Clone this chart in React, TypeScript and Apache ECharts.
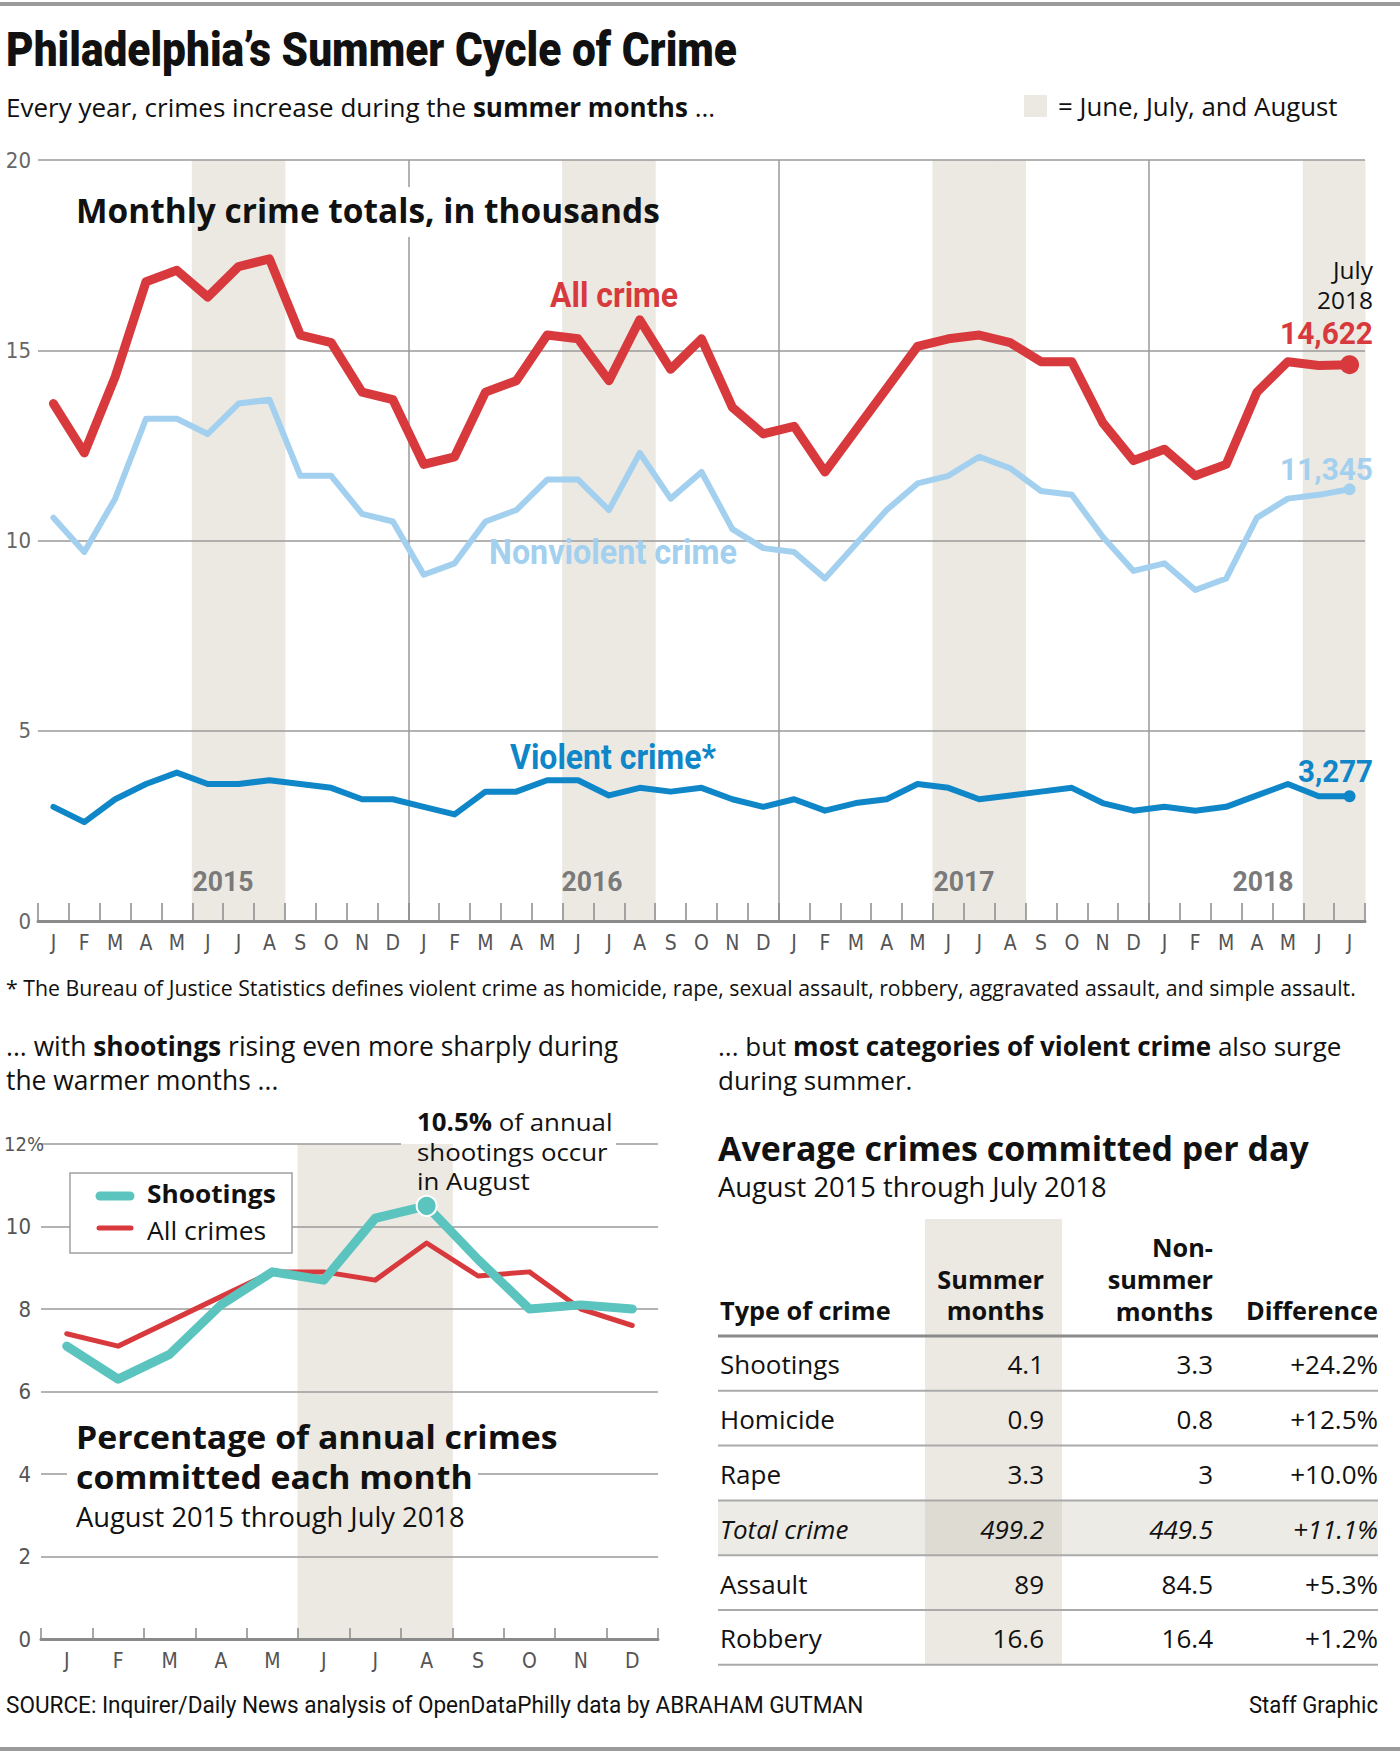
import React, { useEffect, useRef } from 'react';
import * as echarts from 'echarts';

// ---------- Fonts & colours ----------
const AXISFONT = "'DejaVu Sans Condensed', 'Liberation Sans Narrow', Roboto, sans-serif";
const SANS = "'Open Sans', Roboto, sans-serif";
const COND = "Roboto, 'Open Sans', sans-serif";
const RED = '#d8393d';
const LIGHT_BLUE = '#a3d0ef';
const BLUE = '#0e86c8';
const TEAL = '#5bc4be';
const SHADE = '#ebe9e2';
const GRIDC = '#9a9a9a';
const AXISC = '#8a8a8a';

// ---------- Data: monthly crime totals (thousands), Jan 2015 - Jul 2018 ----------
const topMonthLabels = [
  'J', 'F', 'M', 'A', 'M', 'J', 'J', 'A', 'S', 'O', 'N', 'D',
  'J', 'F', 'M', 'A', 'M', 'J', 'J', 'A', 'S', 'O', 'N', 'D',
  'J', 'F', 'M', 'A', 'M', 'J', 'J', 'A', 'S', 'O', 'N', 'D',
  'J', 'F', 'M', 'A', 'M', 'J', 'J',
];
const allCrime = [
  13.6, 12.3, 14.3, 16.8, 17.1, 16.4, 17.2, 17.4, 15.4, 15.2, 13.9, 13.7,
  12.0, 12.2, 13.9, 14.2, 15.4, 15.3, 14.2, 15.8, 14.5, 15.3, 13.5, 12.8,
  13.0, 11.8, 12.9, 14.0, 15.1, 15.3, 15.4, 15.2, 14.7, 14.7, 13.1, 12.1,
  12.4, 11.7, 12.0, 13.9, 14.7, 14.6, 14.622,
];
const nonviolentCrime = [
  10.6, 9.7, 11.1, 13.2, 13.2, 12.8, 13.6, 13.7, 11.7, 11.7, 10.7, 10.5,
  9.1, 9.4, 10.5, 10.8, 11.6, 11.6, 10.8, 12.3, 11.1, 11.8, 10.3, 9.8,
  9.7, 9.0, 9.9, 10.8, 11.5, 11.7, 12.2, 11.9, 11.3, 11.2, 10.1, 9.2,
  9.4, 8.7, 9.0, 10.6, 11.1, 11.2, 11.345,
];
const violentCrime = [
  3.0, 2.6, 3.2, 3.6, 3.9, 3.6, 3.6, 3.7, 3.6, 3.5, 3.2, 3.2,
  3.0, 2.8, 3.4, 3.4, 3.7, 3.7, 3.3, 3.5, 3.4, 3.5, 3.2, 3.0,
  3.2, 2.9, 3.1, 3.2, 3.6, 3.5, 3.2, 3.3, 3.4, 3.5, 3.1, 2.9,
  3.0, 2.9, 3.0, 3.3, 3.6, 3.28, 3.277,
];
const topSummerMonthIdx = [5, 6, 7, 17, 18, 19, 29, 30, 31, 41, 42];
const yearStartIdx = [12, 24, 36];
const topYMax = 20;
const topYInterval = 5;
const yearLabels = ['2015', '2016', '2017', '2018'];
const endLabels = ['14,622', '11,345', '3,277'];

// ---------- Data: percentage of annual crimes each month ----------
const pctMonthLabels = ['J', 'F', 'M', 'A', 'M', 'J', 'J', 'A', 'S', 'O', 'N', 'D'];
const shootingsPct = [7.1, 6.3, 6.9, 8.1, 8.9, 8.7, 10.2, 10.5, 9.2, 8.0, 8.1, 8.0];
const allCrimesPct = [7.4, 7.1, 7.7, 8.3, 8.9, 8.9, 8.7, 9.6, 8.8, 8.9, 8.0, 7.6];
const pctSummerMonthIdx = [5, 6, 7];
const pctYMax = 12;
const pctYInterval = 2;

// ---------- Data: table ----------
const crimeTypes = ['Shootings', 'Homicide', 'Rape', 'Total crime', 'Assault', 'Robbery'];
const summerValues = ['4.1', '0.9', '3.3', '499.2', '89', '16.6'];
const nonSummerValues = ['3.3', '0.8', '3', '449.5', '84.5', '16.4'];
const differences = ['+24.2%', '+12.5%', '+10.0%', '+11.1%', '+5.3%', '+1.2%'];
const highlightedRow = 3;

// ---------- Layout ----------
const TOPG = { left: 38, top: 160, width: 1327, height: 761 };
const BOTG = { left: 41, top: 1144, width: 617, height: 495 };
const botY = (v: number) => BOTG.top + BOTG.height * (1 - v / pctYMax);

let measureCtx: CanvasRenderingContext2D | null = null;
const measure = (t: string, font: string) => {
  if (!measureCtx) measureCtx = document.createElement('canvas').getContext('2d');
  if (!measureCtx) return 0;
  measureCtx.font = font;
  return measureCtx.measureText(t).width;
};
const fitSize = (t: string, weight: string, family: string, target: number, base = 30) => {
  const w = measure(t, `${weight} ${base}px ${family}`);
  return w > 0 ? (base * target) / w : base;
};

const text = (t: string, x: number, y: number, o: any = {}) => {
  const size = o.size || 25;
  const scaled = typeof o.sx === 'number';
  return {
    type: 'text',
    z: 10,
    silent: true,
    ...(scaled ? { x, y, scaleX: o.sx } : {}),
    style: {
      text: t,
      x: scaled ? 0 : x,
      y: scaled ? 0 : y,
      fill: o.fill || '#111',
      fontSize: size,
      fontFamily: o.family || SANS,
      fontWeight: o.weight || 'normal',
      fontStyle: o.fontStyle || 'normal',
      align: o.align || 'left',
      verticalAlign: 'middle',
      lineHeight: o.lh || Math.round(size * 1.1),
      rich: o.rich,
    },
  };
};

// condensed text: horizontally scaled to the target width
const ctext = (t: string, x: number, y: number, target: number, o: any = {}) => {
  const family = o.family || COND;
  const weight = o.weight || 'bold';
  const size = o.size || 30;
  const w = measure(t, `${weight} ${size}px ${family}`);
  const s = w > 0 ? target / w : 1;
  return {
    type: 'text',
    z: 10,
    silent: true,
    x,
    y,
    scaleX: s,
    style: {
      text: t,
      x: 0,
      y: 0,
      fill: o.fill || '#111',
      fontSize: size,
      fontFamily: family,
      fontWeight: weight,
      align: o.align || 'left',
      verticalAlign: 'middle',
      lineHeight: Math.round(size * 1.05),
    },
  };
};

const richStyles = (size: number, lh?: number) => ({
  r: { fontSize: size, fontFamily: SANS, fontWeight: 'normal', fill: '#111', lineHeight: lh || Math.round(size * 1.1) },
  b: { fontSize: size, fontFamily: SANS, fontWeight: 'bold', fill: '#111', lineHeight: lh || Math.round(size * 1.1) },
});

const hline = (x1: number, x2: number, y: number, color: string, w: number, z = 2) => ({
  type: 'line',
  z,
  silent: true,
  shape: { x1, y1: y, x2, y2: y },
  style: { stroke: color, lineWidth: w },
});

function buildGraphics() {
  const g: any[] = [];
  // page rules
  g.push({ type: 'rect', z: 10, silent: true, shape: { x: 0, y: 2, width: 1400, height: 4 }, style: { fill: '#9b9b9b' } });
  g.push({ type: 'rect', z: 10, silent: true, shape: { x: 0, y: 1747, width: 1400, height: 4 }, style: { fill: '#9b9b9b' } });

  // headline
  g.push(ctext('Philadelphia’s Summer Cycle of Crime', 6, 50, 731, { size: 48, weight: '900' }));
  g.push(text('{r|Every year, crimes increase during the }{b|summer months}{r| ...}', 6, 107, { rich: richStyles(26) }));
  g.push({ type: 'rect', z: 10, silent: true, shape: { x: 1024, y: 95, width: 23, height: 22 }, style: { fill: SHADE } });
  g.push(text('= June, July, and August', 1058, 106, { size: 25.8 }));

  // top chart annotations
  g.push({ type: 'rect', z: 3, silent: true, shape: { x: 400, y: 187, width: 16, height: 50 }, style: { fill: '#fff' } });
  const t1 = 'Monthly crime totals, in thousands';
  g.push(text(t1, 76, 210, { size: fitSize(t1, 'bold', SANS, 584), weight: 'bold' }));
  g.push(ctext('All crime', 614, 295, 128, { size: 35, fill: RED, align: 'center' }));
  g.push(ctext('Nonviolent crime', 613, 552, 248, { size: 35, fill: LIGHT_BLUE, align: 'center' }));
  g.push(ctext('Violent crime*', 613, 757, 206, { size: 35, fill: BLUE, align: 'center' }));
  g.push(text('July\n2018', 1373, 285, { size: 23.5, align: 'right', lh: 30, sx: 1.04 }));
  g.push(ctext(endLabels[0], 1373, 333, 93, { size: 31, fill: RED, align: 'right' }));
  g.push(ctext(endLabels[1], 1373, 469, 93, { size: 31, fill: LIGHT_BLUE, align: 'right' }));
  g.push(ctext(endLabels[2], 1373, 771, 75, { size: 31, fill: BLUE, align: 'right' }));
  const yearX = [223, 592, 964, 1263];
  yearLabels.forEach((y, i) =>
    g.push(ctext(y, yearX[i], 882, 61, { size: 28, fill: '#7a7a7a', align: 'center' })),
  );
  const fn =
    '* The Bureau of Justice Statistics defines violent crime as homicide, rape, sexual assault, robbery, aggravated assault, and simple assault.';
  g.push(text(fn, 6, 987, { size: Math.min(22, fitSize(fn, 'normal', SANS, 1351)) }));

  // intros
  g.push(
    text('{r|... with }{b|shootings}{r| rising even more sharply during}\n{r|the warmer months ...}', 6, 1063, {
      rich: richStyles(26.4, 34),
      lh: 34,
    }),
  );
  g.push(
    text('{r|... but }{b|most categories of violent crime}{r| also surge}\n{r|during summer.}', 718, 1063, {
      rich: richStyles(26, 34),
      lh: 34,
    }),
  );

  // bottom-left chart: broken gridlines for 12 and 4, and the 12% label
  g.push(hline(BOTG.left, 401, botY(12), GRIDC, 1.5));
  g.push(hline(616, BOTG.left + BOTG.width, botY(12), GRIDC, 1.5));
  g.push(hline(BOTG.left, 67, botY(4), GRIDC, 1.5));
  g.push(hline(478, BOTG.left + BOTG.width, botY(4), GRIDC, 1.5));
  g.push(text(`${pctYMax}%`, 4, botY(pctYMax), { size: 20, family: AXISFONT, fill: '#555', lh: 22 }));
  g.push(
    text('{b|10.5%}{r| of annual}\n{r|shootings occur}\n{r|in August}', 417, 1151, {
      rich: richStyles(24.4, 29.5),
      lh: 29.5,
      sx: 1.06,
    }),
  );
  // legend
  g.push({ type: 'rect', z: 8, silent: true, shape: { x: 70, y: 1173, width: 222, height: 80 }, style: { fill: '#fff', stroke: '#a0a0a0', lineWidth: 1.5 } });
  g.push({ type: 'line', z: 9, silent: true, shape: { x1: 100, y1: 1196, x2: 130, y2: 1196 }, style: { stroke: TEAL, lineWidth: 9, lineCap: 'round' } });
  g.push({ type: 'line', z: 9, silent: true, shape: { x1: 99, y1: 1228, x2: 131, y2: 1228 }, style: { stroke: RED, lineWidth: 5, lineCap: 'round' } });
  g.push(text('Shootings', 147, 1194, { size: 25, weight: 'bold', lh: 30, sx: 1.05 }));
  g.push(text('All crimes', 147, 1230, { size: 25, lh: 30, sx: 1.06 }));
  const t2 = 'Percentage of annual crimes';
  const t2fit = fitSize(t2, 'bold', SANS, 482);
  const t2s = 32.5;
  g.push(text(t2 + '\ncommitted each month', 76, 1457, { size: t2s, weight: 'bold', lh: 40, sx: t2fit / t2s }));
  g.push(text('August 2015 through July 2018', 76, 1516, { size: 27.3, lh: 30 }));

  // table
  const t3 = 'Average crimes committed per day';
  g.push(text(t3, 718, 1148, { size: fitSize(t3, 'bold', SANS, 591), weight: 'bold', lh: 36 }));
  g.push(text('August 2015 through July 2018', 718, 1186, { size: 27.3, lh: 30 }));
  const TX0 = 718;
  const TX1 = 1378;
  const colSummerL = 925;
  const colSummerR = 1062;
  const colRight = [1044, 1213, 1378];
  const headerRule = 1336;
  const rowH = 54.8;
  g.push({ type: 'rect', z: 1, silent: true, shape: { x: colSummerL, y: 1219, width: colSummerR - colSummerL, height: headerRule + rowH * crimeTypes.length - 1219 }, style: { fill: SHADE } });
  const hy = headerRule + rowH * highlightedRow;
  g.push({ type: 'rect', z: 1, silent: true, shape: { x: TX0, y: hy, width: TX1 - TX0, height: rowH }, style: { fill: '#ecebe5' } });
  g.push({ type: 'rect', z: 1, silent: true, shape: { x: colSummerL, y: hy, width: colSummerR - colSummerL, height: rowH }, style: { fill: '#dedcd2' } });
  const hs = 25.3;
  g.push(text('Type of crime', 720, 1310, { size: hs, weight: 'bold', lh: 31 }));
  g.push(text('Summer\nmonths', colRight[0], 1294.5, { size: hs, weight: 'bold', align: 'right', lh: 31 }));
  g.push(text('Non-\nsummer\nmonths', colRight[1], 1278.5, { size: hs, weight: 'bold', align: 'right', lh: 32 }));
  g.push(text('Difference', colRight[2], 1310, { size: hs, weight: 'bold', align: 'right', lh: 31 }));
  g.push(hline(TX0, TX1, headerRule, '#8a8a8a', 3));
  const rs = 26;
  crimeTypes.forEach((name, i) => {
    const cy = headerRule + rowH * i + rowH / 2 + 1;
    const it = i === highlightedRow ? 'italic' : 'normal';
    g.push(text(name, 720, cy, { size: rs, fontStyle: it }));
    g.push(text(summerValues[i], colRight[0], cy, { size: rs, fontStyle: it, align: 'right' }));
    g.push(text(nonSummerValues[i], colRight[1], cy, { size: rs, fontStyle: it, align: 'right' }));
    g.push(text(differences[i], colRight[2], cy, { size: rs, fontStyle: it, align: 'right' }));
    g.push(hline(TX0, TX1, headerRule + rowH * (i + 1), '#aaaaaa', 2));
  });

  // footer
  g.push(ctext('SOURCE: Inquirer/Daily News analysis of OpenDataPhilly data by ABRAHAM GUTMAN', 6, 1705, 858, { size: 24, weight: 'normal' }));
  g.push(ctext('Staff Graphic', 1378, 1705, 129, { size: 24, weight: 'normal', align: 'right' }));
  return g;
}

const shadeRender = (params: any, api: any) => {
  const x = api.value(0);
  const bottom = api.coord([x, 0]);
  const top = api.coord([x, api.value(1)]);
  const w = api.size([1, 0])[0];
  return {
    type: 'rect',
    shape: { x: bottom[0] - w / 2 - 0.5, y: top[1], width: w + 1, height: bottom[1] - top[1] },
    style: { fill: SHADE },
  };
};

const lineSeries = (
  name: string,
  data: number[],
  color: string,
  width: number,
  xi: number,
  yi: number,
  dotIdx: number,
  dotSize: number,
  z: number,
  dotBorder = 0,
) => ({
  type: 'line',
  name,
  data,
  xAxisIndex: xi,
  yAxisIndex: yi,
  z,
  symbol: 'circle',
  showSymbol: true,
  showAllSymbol: true,
  symbolSize: (_v: any, p: any) => (p.dataIndex === dotIdx ? dotSize : 0),
  itemStyle: { color, borderColor: '#fff', borderWidth: dotBorder },
  lineStyle: { color, width, join: 'round', cap: 'round' },
  emphasis: { disabled: true },
  silent: true,
});

function buildOption() {
  const catAxisBase = {
    type: 'category',
    boundaryGap: true,
    axisLine: { show: true, lineStyle: { color: AXISC, width: 3 } },
    axisTick: { show: true, inside: true, interval: 0, lineStyle: { color: AXISC, width: 1.5 } },
    axisLabel: { interval: 0, color: '#555', fontSize: 21, fontFamily: AXISFONT, margin: 11 },
    splitLine: { show: false },
    z: 5,
  };
  // one split line per band boundary; only year boundaries are visible
  const separatorColors = [...topMonthLabels, ''].map((_, i) =>
    yearStartIdx.includes(i) ? GRIDC : 'rgba(0,0,0,0)',
  );
  return {
    animation: false,
    backgroundColor: '#fff',
    grid: [
      { ...TOPG, containLabel: false, outerBoundsMode: 'none' },
      { ...BOTG, containLabel: false, outerBoundsMode: 'none' },
    ],
    xAxis: [
      { ...catAxisBase, gridIndex: 0, data: topMonthLabels, axisTick: { ...catAxisBase.axisTick, length: 18 } },
      {
        type: 'category',
        gridIndex: 0,
        data: topMonthLabels,
        boundaryGap: true,
        position: 'bottom',
        axisLine: { show: false },
        axisTick: { show: false },
        axisLabel: { show: false },
        splitLine: {
          show: true,
          interval: 0,
          lineStyle: { color: separatorColors, width: 1.5 },
        },
        z: 2,
      },
      { ...catAxisBase, gridIndex: 1, data: pctMonthLabels, axisTick: { ...catAxisBase.axisTick, length: 11 } },
    ],
    yAxis: [
      {
        type: 'value',
        gridIndex: 0,
        min: 0,
        max: topYMax,
        interval: topYInterval,
        axisLine: { show: false },
        axisTick: { show: false },
        axisLabel: { color: '#666', fontSize: 22, fontFamily: AXISFONT, margin: 7 },
        splitLine: { show: true, lineStyle: { color: GRIDC, width: 1.5 } },
        z: 2,
      },
      {
        type: 'value',
        gridIndex: 1,
        min: 0,
        max: pctYMax,
        interval: pctYInterval,
        axisLine: { show: false },
        axisTick: { show: false },
        axisLabel: {
          color: '#555',
          fontSize: 22,
          fontFamily: AXISFONT,
          margin: 10,
          // the top label (with its % sign) is drawn as a graphic so it can hang past the grid edge
          formatter: (v: number) => (v === pctYMax ? '' : String(v)),
        },
        splitLine: {
          show: true,
          lineStyle: {
            color: [GRIDC, GRIDC, 'rgba(0,0,0,0)', GRIDC, GRIDC, GRIDC, 'rgba(0,0,0,0)'],
            width: 1.5,
          },
        },
        z: 2,
      },
    ],
    series: [
      {
        type: 'custom',
        xAxisIndex: 0,
        yAxisIndex: 0,
        z: 1,
        silent: true,
        renderItem: shadeRender,
        data: topSummerMonthIdx.map((i) => [i, topYMax]),
      },
      lineSeries('Nonviolent crime', nonviolentCrime, LIGHT_BLUE, 6, 0, 0, nonviolentCrime.length - 1, 12, 4),
      lineSeries('Violent crime', violentCrime, BLUE, 6, 0, 0, violentCrime.length - 1, 12, 4),
      lineSeries('All crime', allCrime, RED, 9, 0, 0, allCrime.length - 1, 19, 4),
      {
        type: 'custom',
        xAxisIndex: 2,
        yAxisIndex: 1,
        z: 1,
        silent: true,
        renderItem: shadeRender,
        data: pctSummerMonthIdx.map((i) => [i, pctYMax]),
      },
      lineSeries('All crimes', allCrimesPct, RED, 5, 2, 1, -1, 0, 4),
      lineSeries('Shootings', shootingsPct, TEAL, 9, 2, 1, 7, 20, 4, 2),
    ],
    graphic: { elements: buildGraphics() },
  };
}

export default function App() {
  const ref = useRef<HTMLDivElement>(null);
  useEffect(() => {
    if (!ref.current) return;
    const chart = echarts.init(ref.current, undefined, { renderer: 'svg' });
    chart.setOption(buildOption() as any);
    return () => chart.dispose();
  }, []);
  return (
    <div
      ref={ref}
      style={{ position: 'absolute', left: 0, top: 0, width: 1400, height: 1759, background: '#fff' }}
    />
  );
}
